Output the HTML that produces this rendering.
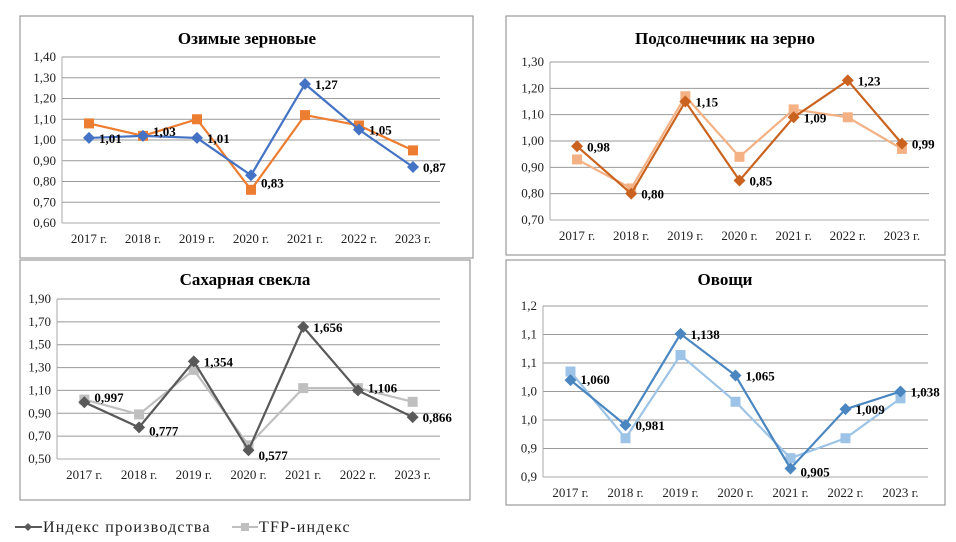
<!DOCTYPE html>
<html><head><meta charset="utf-8">
<style>
body{margin:0;background:#fff;width:956px;height:542px;overflow:hidden;font-family:"Liberation Serif",serif;}
svg{position:absolute;left:0;top:0}
</style></head><body>
<svg id="s" width="956" height="542"></svg>
<script>
const categories=["2017 г.","2018 г.","2019 г.","2020 г.","2021 г.","2022 г.","2023 г."];
// Chart 1: Озимые зерновые
const c1Prod=[1.01,1.02,1.01,0.83,1.27,1.05,0.87];
const c1Tfp=[1.08,1.02,1.10,0.76,1.12,1.07,0.95];
const c1Labels=["1,01","1,03","1,01","0,83","1,27","1,05","0,87"];
const c1Ticks=["0,60","0,70","0,80","0,90","1,00","1,10","1,20","1,30","1,40"];
// Chart 2: Подсолнечник на зерно
const c2Prod=[0.98,0.80,1.15,0.85,1.09,1.23,0.99];
const c2Tfp=[0.93,0.82,1.17,0.94,1.12,1.09,0.97];
const c2Labels=["0,98","0,80","1,15","0,85","1,09","1,23","0,99"];
const c2Ticks=["0,70","0,80","0,90","1,00","1,10","1,20","1,30"];
// Chart 3: Сахарная свекла
const c3Prod=[0.997,0.777,1.354,0.577,1.656,1.10,0.866];
const c3Tfp=[1.02,0.89,1.28,0.62,1.12,1.12,1.00];
const c3Labels=["0,997","0,777","1,354","0,577","1,656","1,106","0,866"];
const c3Ticks=["0,50","0,70","0,90","1,10","1,30","1,50","1,70","1,90"];
// Chart 4: Овощи
const c4Prod=[1.070,0.991,1.151,1.078,0.915,1.019,1.050];
const c4Tfp=[1.085,0.968,1.114,1.032,0.933,0.968,1.038];
const c4Labels=["1,060","0,981","1,138","1,065","0,905","1,009","1,038"];
const c4Ticks=["0,9","0,9","1,0","1,0","1,1","1,1","1,2"];

const NS="http://www.w3.org/2000/svg";
const svg=document.getElementById('s');
function mk(t,a,p){const e=document.createElementNS(NS,t);for(const k in a)e.setAttribute(k,a[k]);(p||svg).appendChild(e);return e;}

function chart(o){
  const g=mk('g',{});
  
  
  const fr=mk('rect',{x:o.bx,y:o.by,width:o.bw,height:o.bh,fill:'#fff',stroke:'#999','stroke-width':1.2},g);
  
  
  const tt=mk('text',{x:o.tx,y:o.ty,'text-anchor':'middle','font-size':17,'font-weight':'bold',fill:'#000'},g);
  tt.textContent=o.title;
  
  
  const n=o.ticks.length-1;
  const yS=v=>o.y1+(o.vmax-v)/(o.vmax-o.vmin)*(o.y0-o.y1);
  const bw=(o.x1-o.x0)/categories.length;
  const xS=i=>o.x0+bw*(i+0.5);
  o.ticks.forEach((t,i)=>{
    const y=o.y0-(o.y0-o.y1)*i/n;
    const l=mk('line',{x1:o.x0,x2:o.x1,y1:y,y2:y,stroke:i==0?'#aaa':'#999','stroke-width':1},g);
    
    
    const tx=mk('text',{x:o.x0-6,y:y+4,'text-anchor':'end','font-size':13,fill:'#222'},g);
    tx.textContent=t;
    
    
  });
  mk('line',{x1:o.x0,x2:o.x0,y1:o.y1,y2:o.y0,stroke:'#aaa'},g);
  categories.forEach((c,i)=>{
    const tx=mk('text',{x:xS(i),y:o.y0+20,'text-anchor':'middle','font-size':13,fill:'#222'},g);
    tx.textContent=c;
    
    
  });
  function series(vals,col,shape,nm){
    const p=mk('polyline',{points:vals.map((v,i)=>xS(i)+','+yS(v)).join(' '),fill:'none',stroke:col,'stroke-width':2.2},g);
    
    
    vals.forEach((v,i)=>{
      const x=xS(i),y=yS(v);let m;
      if(shape=='sq')m=mk('rect',{x:x-5,y:y-5,width:10,height:10,fill:col},g);
      else m=mk('polygon',{points:`${x},${y-6} ${x+6},${y} ${x},${y+6} ${x-6},${y}`,fill:col},g);
      
      
    });
  }
  series(o.tfp,o.c2,'sq','tfp-index');
  series(o.prod,o.c1,'di','production-index');
  o.prod.forEach((v,i)=>{
    const tx=mk('text',{x:xS(i)+10,y:yS(v)+(o.ldy?o.ldy[i]:5),'font-size':13,'font-weight':'bold',fill:'#000'},g);
    tx.textContent=o.labels[i];
    
    
  });
}
chart({name:'winter-grain-chart',title:'Озимые зерновые',bx:20,by:16,bw:453,bh:242,tx:247,ty:44,x0:62,x1:440,y0:223,y1:57,vmin:0.6,vmax:1.4,ticks:c1Ticks,prod:c1Prod,tfp:c1Tfp,labels:c1Labels,c1:'#4472C4',c2:'#ED7D31',ldy:[5,0,5,12,5,5,5]});
chart({name:'sunflower-chart',title:'Подсолнечник на зерно',bx:506,by:16,bw:439,bh:239,tx:725,ty:44,x0:550,x1:929,y0:220,y1:62,vmin:0.7,vmax:1.3,ticks:c2Ticks,prod:c2Prod,tfp:c2Tfp,labels:c2Labels,c1:'#C9631F',c2:'#F4B183',ldy:[5,5,5,5,5,5,5]});
chart({name:'sugar-beet-chart',title:'Сахарная свекла',bx:20,by:260,bw:450,bh:240,tx:245,ty:285,x0:57,x1:440,y0:459,y1:299,vmin:0.5,vmax:1.9,ticks:c3Ticks,prod:c3Prod,tfp:c3Tfp,labels:c3Labels,c1:'#595959',c2:'#BFBFBF',ldy:[0,8,5,10,5,2,5]});
chart({name:'vegetables-chart',title:'Овощи',bx:506,by:260,bw:439,bh:245,tx:725,ty:285,x0:543,x1:928,y0:477,y1:306,vmin:0.9,vmax:1.2,ticks:c4Ticks,prod:c4Prod,tfp:c4Tfp,labels:c4Labels,c1:'#4A86C0',c2:'#9DC3E6',ldy:[4,5,5,5,8,5,5]});

// legend
const lg=mk('g',{});


mk('line',{x1:15,x2:42,y1:527,y2:527,stroke:'#595959','stroke-width':2},lg);
mk('polygon',{points:'28,523 32,527 28,531 24,527',fill:'#595959'},lg);
const t1=mk('text',{x:43,y:532,'font-size':16,'letter-spacing':1.2,fill:'#222'},lg);t1.textContent='Индекс производства';


mk('line',{x1:232,x2:258,y1:527,y2:527,stroke:'#BFBFBF','stroke-width':2},lg);
mk('rect',{x:241,y:523,width:8,height:8,fill:'#BFBFBF'},lg);
const t2=mk('text',{x:259,y:532,'font-size':16,'letter-spacing':1.2,fill:'#222'},lg);t2.textContent='TFP-индекс';


</script>
</body></html>
